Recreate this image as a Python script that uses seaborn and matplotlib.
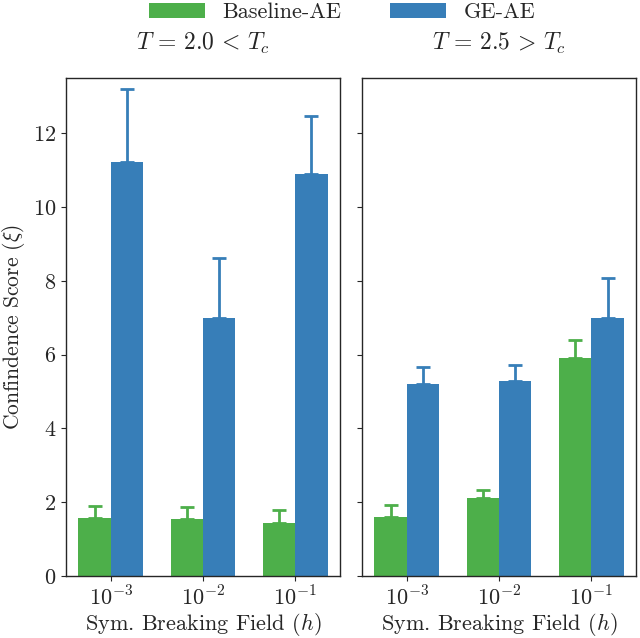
import numpy as np
import pandas as pd
import matplotlib
matplotlib.use("Agg")
import matplotlib.pyplot as plt
import seaborn as sns

# values
fields = [r"$10^{-3}$", r"$10^{-2}$", r"$10^{-1}$"]
models = ["Baseline-AE", "GE-AE"]
titles = [r"$T\,=\,2.0\,<\,T_c$", r"$T\,=\,2.5\,>\,T_c$"]

low_base = [1.57, 1.54, 1.44]
low_base_err = [0.33, 0.33, 0.35]
low_ge = [11.22, 7.0, 10.89]
low_ge_err = [1.98, 1.62, 1.58]

high_base = [1.60, 2.11, 5.90]
high_base_err = [0.32, 0.22, 0.49]
high_ge = [5.20, 5.28, 7.00]
high_ge_err = [0.47, 0.44, 1.08]

colors = ["#4daf4a", "#377eb8"]

sns.set_style("ticks")
plt.rcParams["font.family"] = "serif"
plt.rcParams["font.serif"] = ["cmr10", "DejaVu Serif"]
plt.rcParams["mathtext.fontset"] = "cm"
plt.rcParams["axes.formatter.use_mathtext"] = True
plt.rcParams["axes.unicode_minus"] = False


def make_df(base, ge):
    return pd.DataFrame({
        "field": fields * 2,
        "model": [models[0]] * 3 + [models[1]] * 3,
        "score": list(base) + list(ge),
    })


fig, axes = plt.subplots(1, 2, figsize=(6.4, 6.38), dpi=100, sharey=True)
fig.subplots_adjust(left=0.103, right=0.994, bottom=0.097, top=0.878, wspace=0.08)

panels = [
    (low_base, low_base_err, low_ge, low_ge_err),
    (high_base, high_base_err, high_ge, high_ge_err),
]

for ax, title, (b, be, g, ge) in zip(axes, titles, panels):
    df = make_df(b, g)
    sns.barplot(data=df, x="field", y="score", hue="model", hue_order=models,
                palette=colors, width=0.7, errorbar=None, ax=ax, saturation=1,
                linewidth=0, legend=(ax is axes[0]))
    errs = [be, ge]
    for cont, err, c in zip(ax.containers, errs, colors):
        xs = [p.get_x() + p.get_width() / 2 for p in cont.patches]
        ys = [p.get_height() for p in cont.patches]
        ax.errorbar(xs, ys, yerr=[np.zeros(len(err)), err], fmt="none",
                    ecolor=c, elinewidth=2, capsize=5, capthick=2)
    ax.set_title(title, fontsize=17, pad=20)
    ax.set_xlabel(r"Sym. Breaking Field ($h$)", fontsize=16, labelpad=1)
    ax.set_ylabel(r"Confindence Score ($\xi$)", fontsize=15.5, labelpad=4)
    for s in ax.spines.values():
        s.set_visible(True)
        s.set_linewidth(1.0)
    ax.tick_params(labelsize=16)

axes[1].set_ylabel("")
axes[1].tick_params(labelleft=False)
axes[0].set_ylim(0, 13.5)
axes[0].set_yticks([0, 2, 4, 6, 8, 10, 12])

handles, labels = axes[0].get_legend_handles_labels()
axes[0].get_legend().remove()
fig.legend(handles, labels, loc="upper center", ncol=2, frameon=False,
           bbox_to_anchor=(0.535, 1.027), fontsize=16, handlelength=2.5,
           columnspacing=2.2)

fig.savefig("out.png", dpi=100)
